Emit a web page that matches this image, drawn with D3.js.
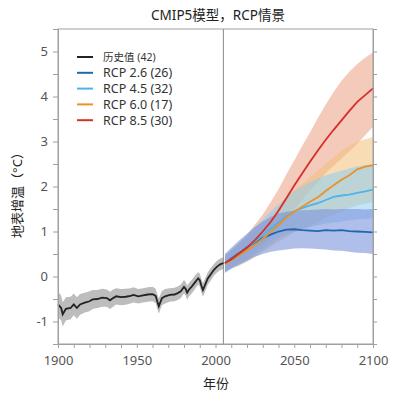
<!DOCTYPE html>
<html><head><meta charset="utf-8">
<script src="https://cdn.jsdelivr.net/npm/d3@7"></script>
<style>body{margin:0;background:#fff}svg{display:block}</style>
</head><body>
<svg id="c" width="400" height="400"></svg>
<script>
// ---- data ----
const histYears = [1900,1902,1903,1905,1908,1910,1912,1914,1917,1920,1922,1925,1928,1931,1933,1935,1937,1940,1943,1946,1948,1951,1954,1957,1960,1962,1963,1964,1966,1968,1971,1974,1976,1978,1980,1981,1982,1983,1985,1987,1989,1990,1991,1992,1993,1995,1997,1999,2001,2003,2005];
const histMean  = [-0.62,-0.70,-0.84,-0.72,-0.70,-0.62,-0.70,-0.62,-0.58,-0.55,-0.51,-0.50,-0.47,-0.48,-0.53,-0.48,-0.44,-0.46,-0.45,-0.43,-0.41,-0.44,-0.42,-0.40,-0.39,-0.43,-0.55,-0.66,-0.48,-0.44,-0.41,-0.40,-0.37,-0.33,-0.23,-0.27,-0.36,-0.30,-0.22,-0.13,-0.04,-0.08,-0.20,-0.30,-0.22,-0.05,0.05,0.15,0.22,0.27,0.30];
const histSpread= [0.28,0.28,0.27,0.26,0.25,0.24,0.24,0.23,0.22,0.22,0.21,0.20,0.20,0.19,0.19,0.19,0.18,0.18,0.18,0.17,0.17,0.16,0.16,0.16,0.16,0.16,0.16,0.17,0.16,0.16,0.15,0.15,0.15,0.15,0.15,0.15,0.16,0.15,0.15,0.15,0.14,0.14,0.15,0.15,0.15,0.14,0.14,0.13,0.13,0.13,0.13];

const projYears = [2006,2010,2015,2020,2025,2030,2035,2040,2045,2050,2055,2060,2065,2070,2075,2080,2085,2090,2095,2100];
const rcp26Mean = [0.29,0.40,0.52,0.65,0.75,0.86,0.93,1.00,1.04,1.05,1.03,1.02,1.01,1.03,1.02,1.03,1.01,1.00,0.99,0.98];
const rcp26Lo   = [0.08,0.18,0.26,0.35,0.44,0.50,0.55,0.58,0.60,0.62,0.63,0.62,0.61,0.60,0.58,0.57,0.55,0.53,0.52,0.50];
const rcp26Hi   = [0.50,0.64,0.80,0.95,1.10,1.22,1.32,1.40,1.44,1.46,1.47,1.48,1.49,1.50,1.49,1.50,1.50,1.50,1.49,1.50];
const rcp45Mean = [0.29,0.38,0.50,0.63,0.77,0.92,1.06,1.20,1.34,1.45,1.52,1.58,1.63,1.70,1.77,1.80,1.82,1.86,1.89,1.93];
const rcp45Lo   = [0.10,0.18,0.26,0.35,0.48,0.60,0.73,0.85,0.94,1.00,1.05,1.10,1.14,1.18,1.20,1.22,1.25,1.27,1.28,1.30];
const rcp45Hi   = [0.48,0.60,0.75,0.90,1.09,1.28,1.45,1.60,1.76,1.90,2.00,2.10,2.18,2.25,2.30,2.35,2.40,2.45,2.47,2.50];
const rcp60Mean = [0.28,0.36,0.47,0.58,0.70,0.84,0.99,1.15,1.31,1.44,1.55,1.66,1.76,1.90,2.03,2.15,2.25,2.38,2.44,2.47];
const rcp60Lo   = [0.10,0.17,0.24,0.32,0.43,0.55,0.66,0.78,0.88,0.98,1.05,1.12,1.20,1.30,1.38,1.45,1.52,1.58,1.62,1.65];
const rcp60Hi   = [0.45,0.56,0.70,0.85,1.02,1.20,1.37,1.55,1.75,1.92,2.06,2.20,2.35,2.50,2.65,2.80,2.90,3.00,3.05,3.10];
const rcp85Mean = [0.30,0.38,0.51,0.64,0.81,1.00,1.21,1.46,1.74,2.02,2.29,2.55,2.80,3.04,3.26,3.47,3.68,3.88,4.03,4.18];
const rcp85Lo   = [0.12,0.20,0.30,0.40,0.54,0.70,0.87,1.07,1.28,1.49,1.70,1.90,2.10,2.30,2.46,2.62,2.78,2.95,3.14,3.32];
const rcp85Hi   = [0.45,0.58,0.75,0.93,1.15,1.38,1.65,1.94,2.27,2.58,2.90,3.20,3.52,3.82,4.10,4.35,4.55,4.72,4.86,4.98];

const legendLabels = ["历史值 (42)","RCP 2.6 (26)","RCP 4.5 (32)","RCP 6.0 (17)","RCP 8.5 (30)"];
const xTicksMajor = [1900,1950,2000,2050,2100];
const yTicksMajor = [-1,0,1,2,3,4,5];

// ---- layout ----
const svg = d3.select("#c");
const L=58, R=373, T=29, B=344;
const x = d3.scaleLinear().domain([1900,2100]).range([L,R]);
const y = d3.scaleLinear().domain([-1.5,5.5]).range([B,T]);
const font = "'Noto Sans','Noto Sans CJK SC',sans-serif";
const axisCol = "#a0a0a0";

const series = [
  {mean:rcp85Mean, lo:rcp85Lo, hi:rcp85Hi, line:"#d62f2a", band:"#eda78c", op:0.6},
  {mean:rcp60Mean, lo:rcp60Lo, hi:rcp60Hi, line:"#e8922c", band:"#f3c07a", op:0.55},
  {mean:rcp45Mean, lo:rcp45Lo, hi:rcp45Hi, line:"#4fb3e8", band:"#8ccdf2", op:0.55},
  {mean:rcp26Mean, lo:rcp26Lo, hi:rcp26Hi, line:"#2067b0", band:"#7b93dc", op:0.6}
];

// historical band
const hIdx = d3.range(histYears.length);
svg.append("path")
  .attr("d", d3.area().x(i=>x(histYears[i])).y0(i=>y(histMean[i]-histSpread[i])).y1(i=>y(histMean[i]+histSpread[i]))(hIdx))
  .attr("fill","#bdbdbd");

const pIdx = d3.range(projYears.length);
series.forEach(s=>{
  svg.append("path")
    .attr("d", d3.area().x(i=>x(projYears[i])).y0(i=>y(s.lo[i])).y1(i=>y(s.hi[i]))(pIdx))
    .attr("fill", s.band).attr("fill-opacity", s.op);
});

// vertical line at 2005
svg.append("line").attr("x1",x(2005)).attr("x2",x(2005)).attr("y1",T).attr("y2",B)
  .attr("stroke","#8a8a8a").attr("stroke-width",1);

// historical line
svg.append("path")
  .attr("d", d3.line().x(i=>x(histYears[i])).y(i=>y(histMean[i]))(hIdx))
  .attr("fill","none").attr("stroke","#222").attr("stroke-width",1.8);

[series[3],series[2],series[1],series[0]].forEach(s=>{
  svg.append("path")
    .attr("d", d3.line().x(i=>x(projYears[i])).y(i=>y(s.mean[i]))(pIdx))
    .attr("fill","none").attr("stroke", s.line).attr("stroke-width",1.8);
});

// frame
svg.append("rect").attr("x",L).attr("y",T).attr("width",R-L).attr("height",B-T)
  .attr("fill","none").attr("stroke",axisCol).attr("stroke-width",1);

// axes
const yAxisL = d3.axisLeft(y).tickValues(d3.range(-1.5,5.51,0.5)).tickSize(5)
  .tickFormat(d=> yTicksMajor.includes(d) ? String(d) : "");
const gL = svg.append("g").attr("transform",`translate(${L},0)`).call(yAxisL);
const yAxisR = d3.axisRight(y).tickValues(d3.range(-1.5,5.51,0.5)).tickSize(4).tickFormat("");
const gR = svg.append("g").attr("transform",`translate(${R},0)`).call(yAxisR);
const xAxis = d3.axisBottom(x).tickValues(d3.range(1900,2101,10)).tickSize(4)
  .tickFormat(d=> xTicksMajor.includes(d) ? String(d) : "");
const gB = svg.append("g").attr("transform",`translate(0,${B})`).call(xAxis);
[gL,gR,gB].forEach(g=>{
  g.select(".domain").attr("stroke",axisCol);
  g.selectAll(".tick line").attr("stroke",axisCol);
  g.selectAll(".tick text").attr("fill","#555").style("font-family",font).style("font-size","13px");
});
gL.selectAll(".tick text").attr("dx","-2");
gB.selectAll(".tick text").attr("dy","1.1em");

// titles
svg.append("text").attr("x",218).attr("y",20).attr("text-anchor","middle")
  .style("font-family",font).style("font-size","13.5px").attr("fill","#222").text("CMIP5模型，RCP情景");
svg.append("text").attr("x",216).attr("y",388).attr("text-anchor","middle")
  .style("font-family",font).style("font-size","13px").attr("fill","#222").text("年份");
svg.append("text").attr("transform","translate(22,192) rotate(-90)").attr("text-anchor","middle")
  .style("font-family",font).style("font-size","13px").attr("fill","#222").text("地表增温（°C）");

// legend
const legColors = ["#222","#2067b0","#4fb3e8","#e8922c","#d62f2a"];
legendLabels.forEach((lab,i)=>{
  const yy = 57 + i*15.8;
  svg.append("line").attr("x1",77).attr("x2",93).attr("y1",yy).attr("y2",yy)
    .attr("stroke",legColors[i]).attr("stroke-width",2);
  svg.append("text").attr("x",103).attr("y",yy).attr("dy","0.35em")
    .style("font-family",font).style("font-size", i===0 ? "10.5px" : "12.5px")
    .attr("fill","#333").text(lab);
});
</script>
</body></html>
